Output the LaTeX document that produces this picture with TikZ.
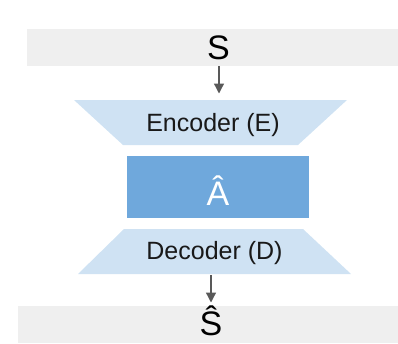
\documentclass[tikz,border=0pt]{standalone}
\usepackage{fontspec}
\setmainfont{Liberation Sans}
\usetikzlibrary{arrows.meta}
\definecolor{bargray}{HTML}{EFEFEF}
\definecolor{lightblue}{HTML}{CFE2F3}
\definecolor{midblue}{HTML}{6FA8DC}
\definecolor{arrowgray}{HTML}{595959}
\tikzset{
  bar/.style={fill=bargray, draw=none},
  trap/.style={fill=lightblue, draw=none},
  latent/.style={fill=midblue, draw=none},
  bigtxt/.style={anchor=base, inner sep=0pt, font=\fontsize{34}{34}\selectfont},
  label/.style={anchor=base, inner sep=0pt, font=\fontsize{25}{25}\selectfont, text=black!90},
  arr/.style={draw=arrowgray, line width=1.3pt, -{Triangle[width=10pt,length=10pt]}}
}
\begin{document}
\begin{tikzpicture}[x=1pt,y=-1pt]
\useasboundingbox (0,0) rectangle (398,343);
% bars
\fill[bar] (27,29) rectangle (398,66);
\fill[bar] (18,306) rectangle (398,343);
% encoder trapezoid
\coordinate (e1) at (74,100);
\coordinate (e2) at (347,100);
\coordinate (e3) at (298,145);
\coordinate (e4) at (123,145);
\fill[trap] (e1) -- (e2) -- (e3) -- (e4) -- cycle;
% latent rectangle
\fill[latent] (127,156) rectangle (309,218);
% decoder trapezoid
\coordinate (d1) at (124,229);
\coordinate (d2) at (303,229);
\coordinate (d3) at (351,274);
\coordinate (d4) at (78,274);
\fill[trap] (d1) -- (d2) -- (d3) -- (d4) -- cycle;
% texts
\node[bigtxt] (s) at (218.5,59.5) {S};
\node[label] (enc) at (213,131) {Encoder (E)};
\node[bigtxt, text=white] (a) at (218,205) {Â};
\node[label] (dec) at (214.5,259) {Decoder (D)};
\node[bigtxt] (shat) at (211,335.5) {Ŝ};
% arrows
\coordinate (a1s) at (219,66);
\coordinate (a1e) at (219,93.5);
\draw[arr] (a1s) -- (a1e);
\coordinate (a2s) at (211,275);
\coordinate (a2e) at (211,302.5);
\draw[arr] (a2s) -- (a2e);
\end{tikzpicture}
\end{document}
